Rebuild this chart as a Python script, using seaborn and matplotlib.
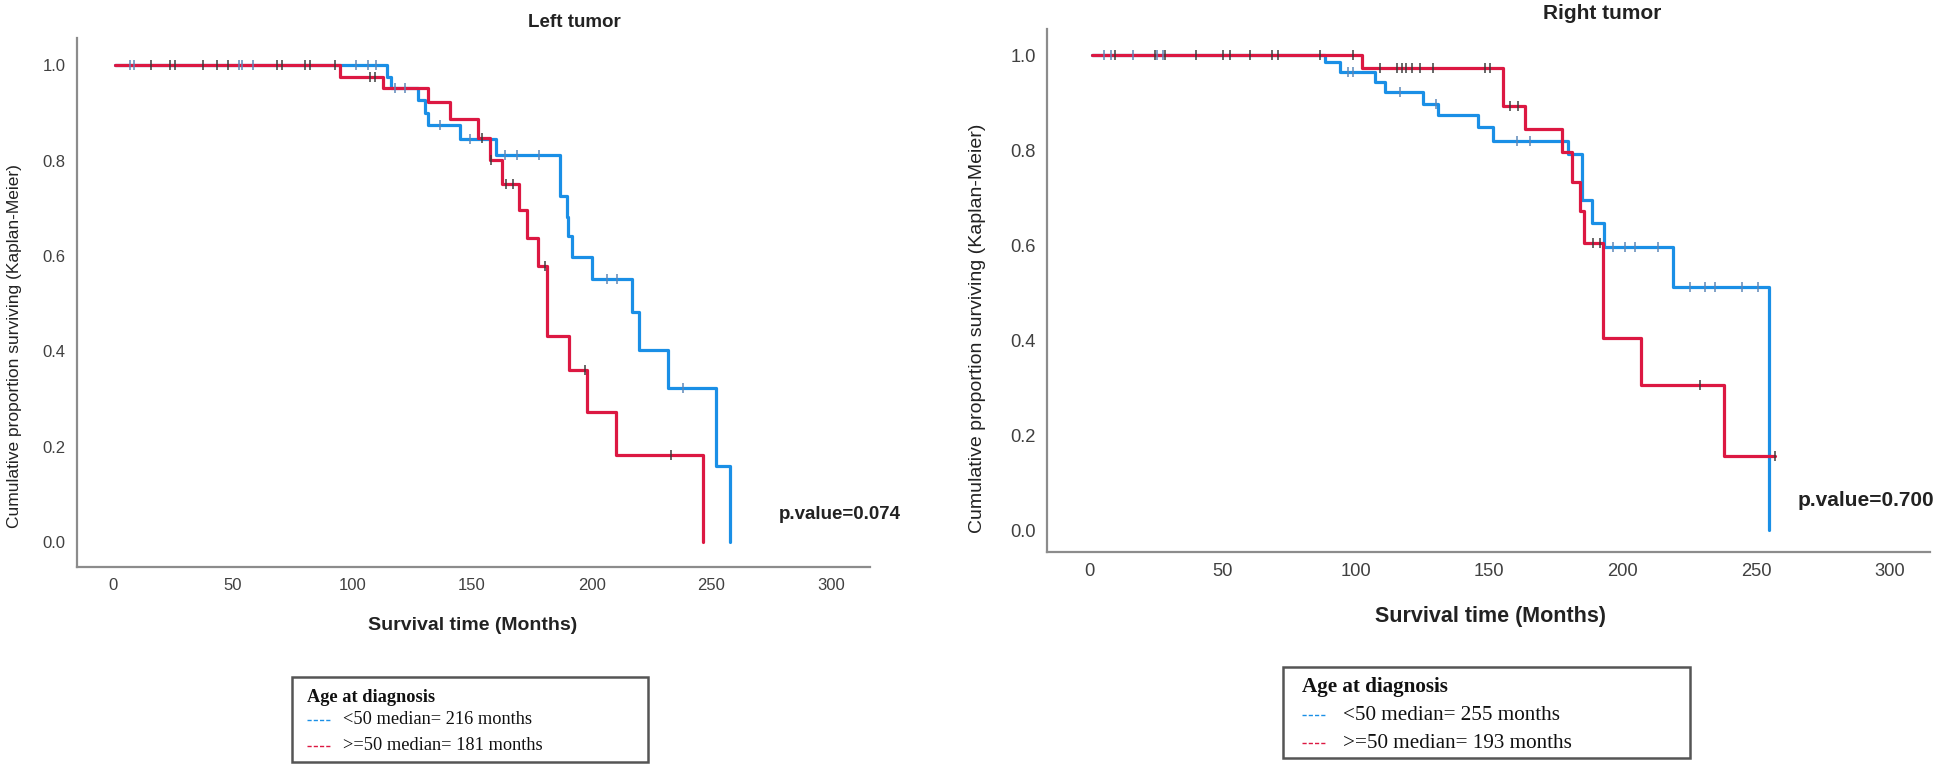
import numpy as np
import pandas as pd
import matplotlib
matplotlib.use("Agg")
import matplotlib.pyplot as plt
from matplotlib import font_manager
from matplotlib.lines import Line2D
from matplotlib.patches import Rectangle
import seaborn as sns

# Kaplan-Meier curves (months, proportion surviving)
# Left tumor, age < 50
left_young_times = [114.3, 116.0, 127.5, 130.3, 131.7, 145.0, 159.9, 186.7, 189.5, 190.1,
                    191.6, 200.0, 216.7, 219.9, 232.0, 251.7, 257.7]
left_young_surv = [0.976, 0.953, 0.927, 0.899, 0.874, 0.846, 0.811, 0.725, 0.681, 0.641,
                   0.597, 0.551, 0.482, 0.402, 0.323, 0.159, 0.0]
left_young_cens = [7, 9, 52.5, 54, 58.6, 101.5, 106.4, 109.9, 118, 122, 136.6, 149,
                   163.7, 168.6, 178, 206.2, 210.4, 238.2]

# Left tumor, age >= 50
left_old_times = [94.8, 112.8, 131.6, 141.0, 152.7, 157.5, 162.6, 169.6, 172.8, 177.7,
                  181.4, 190.5, 198.1, 210.1, 246.6]
left_old_surv = [0.975, 0.953, 0.922, 0.887, 0.848, 0.802, 0.751, 0.696, 0.637, 0.579,
                 0.433, 0.362, 0.274, 0.183, 0.0]
left_old_cens = [16.1, 23.8, 25.9, 37.6, 43.3, 48.2, 68.4, 70.5, 80.2, 82.3, 92.7, 107.3,
                 109.4, 154, 158, 164, 167, 180.5, 197, 233.3]

# Right tumor, age < 50
right_young_times = [88.5, 94.0, 107.2, 110.9, 125.3, 130.9, 145.9, 151.5, 179.6, 184.6,
                     188.4, 193.0, 218.8, 255.0]
right_young_surv = [0.986, 0.965, 0.944, 0.923, 0.898, 0.874, 0.849, 0.819, 0.792, 0.695,
                    0.647, 0.596, 0.512, 0.0]
right_young_cens = [5.5, 8.2, 16.5, 25.5, 27.7, 97, 99, 116.6, 130, 160.3, 165.3, 196.5,
                    200.9, 204.6, 213.4, 225.2, 230.9, 234.6, 244.6, 250.9]

# Right tumor, age >= 50
right_old_times = [102.2, 155.3, 163.4, 177.2, 180.9, 184.0, 185.5, 192.8, 206.9, 238.0]
right_old_surv = [0.972, 0.894, 0.845, 0.796, 0.734, 0.672, 0.605, 0.405, 0.306, 0.156]
right_old_cens = [9.7, 24.7, 28.4, 40.3, 50.2, 52.9, 60.3, 68.5, 70.9, 86.6, 99, 109, 115.3,
                  117.2, 119, 120.9, 124, 129, 148.4, 150.3, 157.8, 160.8, 189, 191.5, 229, 257]

groups = ["<50", ">=50"]
left_medians = [216, 181]
right_medians = [255, 193]
p_values = ["0.074", "0.700"]
titles = ["Left tumor", "Right tumor"]
x_ticks = [0, 50, 100, 150, 200, 250, 300]
y_ticks = [0.0, 0.2, 0.4, 0.6, 0.8, 1.0]

blue = "#1a8fe6"
red = "#dc1842"
palette = {"<50": blue, ">=50": red}
cens_colors = {"<50": "#5b86b8", ">=50": "#3a3a3a"}


def km_frames(times, surv, cens, group):
    t = [1.0] + list(times)
    s = [1.0] + list(surv)
    if max(cens) > t[-1]:
        t.append(max(cens))
        s.append(s[-1])
    line = pd.DataFrame({"t": t, "s": s, "group": group})
    idx = np.searchsorted(np.array(times), np.array(cens), side="right")
    s_full = np.array([1.0] + list(surv))
    marks = pd.DataFrame({"t": cens, "s": s_full[idx], "group": group})
    return line, marks


sns.set_style("white")
names = {f.name for f in font_manager.fontManager.ttflist}
narrow = "Liberation Sans Narrow" if "Liberation Sans Narrow" in names else "Liberation Sans"
plt.rcParams["font.family"] = ["Liberation Sans", "DejaVu Sans"]

fig = plt.figure(figsize=(19.44, 7.65), dpi=100)
ax_left = fig.add_axes([0.0396, 0.2588, 0.4079, 0.6915])
ax_right = fig.add_axes([0.5386, 0.2784, 0.4542, 0.6836])

panels = [
    (ax_left, [(left_young_times, left_young_surv, left_young_cens),
               (left_old_times, left_old_surv, left_old_cens)], (-15.0, 316.2), (-0.052, 1.057)),
    (ax_right, [(right_young_times, right_young_surv, right_young_cens),
                (right_old_times, right_old_surv, right_old_cens)], (-15.7, 315.2), (-0.046, 1.055)),
]

for i, (ax, series, xlim, ylim) in enumerate(panels):
    scale = 1.0 if i == 0 else 1.1
    lines, marks = [], []
    for g, (tt, ss, cc) in zip(groups, series):
        ln, mk = km_frames(tt, ss, cc, g)
        lines.append(ln)
        marks.append(mk)
    line_df = pd.concat(lines, ignore_index=True)
    sns.lineplot(data=line_df, x="t", y="s", hue="group", palette=palette,
                 drawstyle="steps-post", estimator=None, sort=False, units="group",
                 lw=2.3, legend=False, ax=ax)
    for g, mk in zip(groups, marks):
        sns.scatterplot(data=mk, x="t", y="s", marker="|", s=60, color=cens_colors[g],
                        linewidth=1.2, alpha=0.9, legend=False, ax=ax, zorder=3)
    ax.set_xlim(*xlim)
    ax.set_ylim(*ylim)
    ax.set_xticks(x_ticks)
    ax.set_xticklabels([str(v) for v in x_ticks], fontfamily=narrow, fontsize=12 * scale, color="#404040")
    ax.set_yticks(y_ticks)
    ax.set_yticklabels([f"{v:.1f}" for v in y_ticks], fontsize=12 * scale, color="#404040")
    ax.tick_params(length=0, pad=8)
    ax.set_xlabel("")
    ax.set_ylabel("")
    for side in ["top", "right"]:
        ax.spines[side].set_visible(False)
    for side in ["left", "bottom"]:
        ax.spines[side].set_color("#8c8c8c")
        ax.spines[side].set_linewidth(1.6)

# titles, axis labels, p-values
fig.text(0.2953, 0.970, titles[0], ha="center", va="center", fontsize=13.5, fontweight="bold", color="#222222")
fig.text(0.8241, 0.983, titles[1], ha="center", va="center", fontsize=15, fontweight="bold", color="#222222")
fig.text(0.2433, 0.183, "Survival time (Months)", ha="center", va="center", fontsize=14,
         fontweight="bold", fontfamily=narrow, color="#222222")
fig.text(0.7665, 0.1935, "Survival time (Months)", ha="center", va="center", fontsize=15.5,
         fontweight="bold", fontfamily=narrow, color="#222222")
fig.text(0.0077, 0.5477, "Cumulative proportion surviving (Kaplan-Meier)", rotation=90, ha="center",
         va="center", fontsize=12.5, fontfamily=narrow, color="#222222")
fig.text(0.5026, 0.5712, "Cumulative proportion surviving (Kaplan-Meier)", rotation=90, ha="center",
         va="center", fontsize=14, fontfamily=narrow, color="#222222")
fig.text(0.4321, 0.3268, "p.value=" + p_values[0], ha="center", va="center", fontsize=13.5,
         fontweight="bold", color="#222222")
fig.text(0.9599, 0.3464, "p.value=" + p_values[1], ha="center", va="center", fontsize=15,
         fontweight="bold", color="#222222")


def legend_box(x0, y0, x1, y1, title_y, rows_y, hx0, hx1, tx, medians, fs):
    W, H = 1944.0, 765.0
    fig.patches.append(Rectangle((x0 / W, 1 - y1 / H), (x1 - x0) / W, (y1 - y0) / H,
                                 transform=fig.transFigure, fill=False, edgecolor="#555555", lw=1.8))
    fig.text(hx0 / W, 1 - title_y / H, "Age at diagnosis", ha="left", va="center", fontsize=fs,
             fontweight="bold", fontfamily="Liberation Serif", color="#111111")
    for g, ry, med in zip(groups, rows_y, medians):
        fig.lines.append(Line2D([hx0 / W, hx1 / W], [1 - ry / H, 1 - ry / H], transform=fig.transFigure,
                                color=palette[g], lw=1.0, linestyle=(0, (3, 1.5))))
        fig.text(tx / W, 1 - ry / H, f"{g} median= {med} months", ha="left", va="center", fontsize=fs,
                 fontfamily="Liberation Serif", color="#111111")


legend_box(292, 677, 648, 762, 697, [720, 746], 307, 330, 343, left_medians, 13.2)
legend_box(1283, 667, 1690, 758, 687, [715, 743], 1302, 1327, 1343, right_medians, 15.2)

fig.savefig("out.png", dpi=100)
